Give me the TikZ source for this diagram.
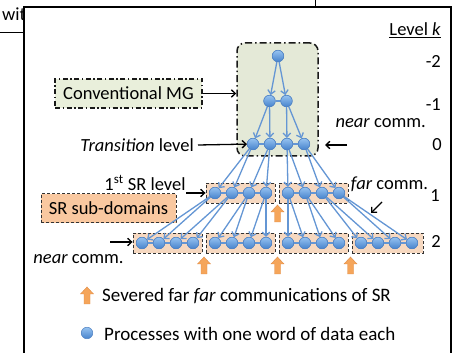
\documentclass[tikz,border=0pt]{standalone}
\usepackage{fontspec}
\setmainfont{Carlito}
\usetikzlibrary{arrows.meta}
\definecolor{edgeblue}{RGB}{100,150,212}
\definecolor{proctop}{RGB}{150,195,240}
\definecolor{procbot}{RGB}{70,130,205}
\definecolor{procdraw}{RGB}{80,130,195}
\definecolor{mgfill}{RGB}{228,233,215}
\definecolor{convfill}{RGB}{233,239,219}
\definecolor{lvlfill}{RGB}{246,216,192}
\definecolor{srfill}{RGB}{249,200,160}
\definecolor{sevorange}{RGB}{245,165,90}
\definecolor{sevdraw}{RGB}{225,140,70}
\tikzset{
  proc/.style={circle, minimum size=11.5pt, inner sep=0pt, top color=proctop, bottom color=procbot, draw=procdraw, line width=0.5pt},
  edg/.style={draw=edgeblue, line width=1.3pt, -{Straight Barb[length=4pt,width=7.5pt]}},
  sib/.style={draw=edgeblue, line width=1.6pt},
  blk/.style={draw=black, line width=1.3pt, -{Straight Barb[length=4pt,width=7.5pt]}},
  lbl/.style={inner sep=0pt, font=\fontsize{18.5}{21}\selectfont},
  leg/.style={inner sep=0pt, font=\fontsize{19}{22}\selectfont},
  lvlbox/.style={draw=black!80, fill=lvlfill, line width=0.9pt, dash pattern=on 3pt off 2pt, minimum height=20pt, inner sep=0pt},
  mgbox/.style={draw=black!90, fill=mgfill, line width=1.5pt, rounded corners=8pt, dash pattern=on 7pt off 3pt on 1.5pt off 3pt, inner sep=0pt},
  convbox/.style={draw=black!90, fill=convfill, line width=1.3pt, dash pattern=on 5pt off 2.5pt on 1.5pt off 2.5pt, inner sep=0pt, font=\fontsize{18.5}{21}\selectfont},
  srbox/.style={draw=black!80, fill=srfill, line width=1pt, dash pattern=on 3pt off 2pt, inner sep=0pt, font=\fontsize{18.5}{21}\selectfont},
  sever/.pic={\path[fill=sevorange, draw=sevdraw, line width=0.4pt] (0,0) -- (6.5,7) -- (3,7) -- (3,17) -- (-3,17) -- (-3,7) -- (-6.5,7) -- cycle;}
}
\begin{document}
\begin{tikzpicture}[x=1pt,y=-1pt]
\useasboundingbox (0,0) rectangle (459,353);
% cropped surroundings
\node[lbl, anchor=base west] (wi) at (2,20.5) {with};
\draw[line width=0.8pt] (0,32) -- (24,32);
\draw[line width=0.8pt] (315,0) -- (315,8);
\draw[line width=2pt, fill=white] (24,7.5) rectangle (451,362);
% boxes
\node[mgbox, minimum width=81pt, minimum height=113pt] (mg) at (277.5,99.5) {};
\node[convbox, minimum width=147pt, minimum height=29pt] (conv) at (128.5,93.5) {Conventional MG};
\node[srbox, minimum width=135pt, minimum height=29pt] (sr) at (108.5,208.5) {SR sub-domains};
\node[lvlbox, minimum width=69pt] (c1box) at (240.5,193) {};
\node[lvlbox, minimum width=69pt] (c2box) at (313.5,193) {};
\node[lvlbox, minimum width=69pt] (d1box) at (167.5,243.5) {};
\node[lvlbox, minimum width=69pt] (d2box) at (240.5,243.5) {};
\node[lvlbox, minimum width=69pt] (d3box) at (313.5,243.5) {};
\node[lvlbox, minimum width=71pt] (d4box) at (387.5,243.5) {};
% process node positions
\node[proc] (m) at (278,56) {};
\node[proc] (a1) at (269.5,101) {};
\node[proc] (a2) at (286.5,101) {};
\foreach \x [count=\i] in {253,270,287,304} \node[proc] (b\i) at (\x,144) {};
\foreach \x [count=\i] in {215,232,249,266,288,305,322,339} \node[proc] (c\i) at (\x,193) {};
\foreach \x [count=\i] in {142,159,176,193,215,232,249,266,288,305,322,339,361,378,395,412} \node[proc] (d\i) at (\x,243) {};
% sibling links
\draw[sib] (a1) -- (a2);
\draw[sib] (b1) -- (b2) -- (b3) -- (b4);
\draw[sib] (c1) -- (c2) -- (c3) -- (c4);
\draw[sib] (c5) -- (c6) -- (c7) -- (c8);
\foreach \g in {0,4,8,12} {
  \pgfmathtruncatemacro{\p}{\g+1}\pgfmathtruncatemacro{\q}{\g+2}\pgfmathtruncatemacro{\r}{\g+3}\pgfmathtruncatemacro{\s}{\g+4}
  \draw[sib] (d\p) -- (d\q) -- (d\r) -- (d\s);
}
% parent -> child edges
\draw[edg] (m) -- (a1);
\draw[edg] (m) -- (a2);
\draw[edg] (a1) -- (b1);
\draw[edg] (a1) -- (b2);
\draw[edg] (a2) -- (b3);
\draw[edg] (a2) -- (b4);
\foreach \i in {1,...,4} {
  \pgfmathtruncatemacro{\u}{2*\i-1}\pgfmathtruncatemacro{\v}{2*\i}
  \draw[edg] (b\i) -- (c\u);
  \draw[edg] (b\i) -- (c\v);
}
\foreach \i in {1,...,8} {
  \pgfmathtruncatemacro{\u}{2*\i-1}\pgfmathtruncatemacro{\v}{2*\i}
  \draw[edg] (c\i) -- (d\u);
  \draw[edg] (c\i) -- (d\v);
}
% severed arrows
\pic at (277.5,205) {sever};
\pic at (204,257) {sever};
\pic at (277.5,257) {sever};
\pic at (350.5,257) {sever};
% labels
\node[lbl, anchor=east] (lvlk) at (441,30) {\underline{Level \textit{k}}};
\node[lbl, anchor=east] (lm2) at (441,61) {-2};
\node[lbl, anchor=east] (lm1) at (441,105) {-1};
\node[lbl, anchor=east] (nearr) at (426,123) {\textit{near} comm.};
\node[lbl, anchor=east] (l0) at (442,145) {0};
\node[lbl] (farc) at (389.5,184) {\textit{far} comm.};
\node[lbl, anchor=east] (l1) at (440,196) {1};
\node[lbl, anchor=east] (l2) at (441,241) {2};
\node[lbl, anchor=east] (trans) at (194,145) {\textit{Transition} level};
\node[lbl] (firstsr) at (145,183) {1\textsuperscript{st} SR level};
\node[lbl] (nearl) at (78.5,259) {\textit{near} comm.};
% black arrows
\draw[blk] (conv.east) -- (mg.west |- conv.east);
\draw[blk] ([xshift=4pt]trans.east) -- (b1);
\coordinate (rs) at (347,145);
\coordinate (re) at (325,145);
\draw[blk] (rs) -- (re);
\coordinate (fs) at (186,193);
\draw[blk] (fs) -- (c1box.west |- fs);
\coordinate (ns) at (110,242);
\draw[blk] (ns) -- (d1box.west |- ns);
\coordinate (fa1) at (382,202);
\coordinate (fa2) at (371,213);
\draw[blk] (fa1) -- (fa2);
% legend
\pic at (87,287) {sever};
\node[leg, anchor=west] (leg1) at (102,296) {Severed far \textit{far} communications of SR};
\node[proc] (legdot) at (87,333) {};
\node[leg, anchor=west] (leg2) at (104,334) {Processes with one word of data each};
% nodes on top of lines
\foreach \n in {m,a1,a2,b1,b2,b3,b4,c1,c2,c3,c4,c5,c6,c7,c8,d1,d2,d3,d4,d5,d6,d7,d8,d9,d10,d11,d12,d13,d14,d15,d16}
  \node[proc] at (\n) {};
\end{tikzpicture}
\end{document}
